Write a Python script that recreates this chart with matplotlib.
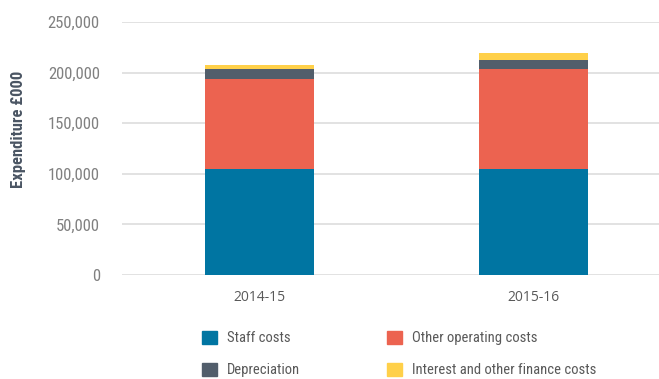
import matplotlib.pyplot as plt
from matplotlib.patches import Patch
from matplotlib.ticker import FuncFormatter

# expenditure by year, £000
years = ["2014-15", "2015-16"]
staff = [104400, 104400]
other_operating = [89300, 99500]
depreciation = [9900, 8600]
interest = [3900, 6900]

series = [
    ("Staff costs", staff, "#0075A2"),
    ("Other operating costs", other_operating, "#EC6350"),
    ("Depreciation", depreciation, "#525E6B"),
    ("Interest and other finance costs", interest, "#FFD049"),
]

narrow = ["Roboto Condensed", "PT Sans Narrow", "Archivo Narrow", "DejaVu Sans"]
plt.rcParams["font.family"] = narrow

fig = plt.figure(figsize=(6.59, 3.79), dpi=100)
ax = fig.add_axes([122 / 659, 1 - 275 / 379, 1 - 122 / 659, 253 / 379])

x = list(range(len(years)))
bottom = [0] * len(years)
for name, vals, color in series:
    ax.bar(x, vals, width=0.398, bottom=bottom, color=color, label=name,
           zorder=3, edgecolor="none")
    bottom = [b + v for b, v in zip(bottom, vals)]

ax.set_ylim(0, 250000)
ax.set_xlim(-0.502, 1.458)
ax.set_yticks(range(0, 250001, 50000))
ax.yaxis.set_major_formatter(FuncFormatter(lambda v, p: f"{int(v):,}"))
ax.grid(axis="y", color="#dddddd", linewidth=1.2, zorder=0)
ax.set_axisbelow(True)
for s in ax.spines.values():
    s.set_visible(False)

ax.tick_params(axis="y", length=0, pad=16, labelsize=12, labelcolor="#808080")
ax.tick_params(axis="x", length=0, pad=11, labelsize=10, labelcolor="#595959")
ax.set_xticks(x)
ax.set_xticklabels(years, family=["Open Sans", "DejaVu Sans"])

ax.set_ylabel("Expenditure £000", fontsize=12, fontweight="bold", color="#4A5563")
ax.yaxis.set_label_coords(-0.179, 0.577)

# legend: two columns, placed separately so each column starts where it should
handles = [Patch(color=c, label=n) for n, _, c in series]
legend_kw = dict(loc="center left", frameon=False, fontsize=10.5,
                 labelcolor="#595959", borderpad=0, borderaxespad=0,
                 handlelength=1.05, handleheight=1.05, handletextpad=0.65,
                 labelspacing=1.2)
mid_y = 1 - 354 / 379
fig.legend([handles[0], handles[2]], [series[0][0], series[2][0]],
           bbox_to_anchor=(202 / 659, mid_y), **legend_kw)
fig.legend([handles[1], handles[3]], [series[1][0], series[3][0]],
           bbox_to_anchor=(387 / 659, mid_y), **legend_kw)

fig.savefig("out.png", dpi=100)
